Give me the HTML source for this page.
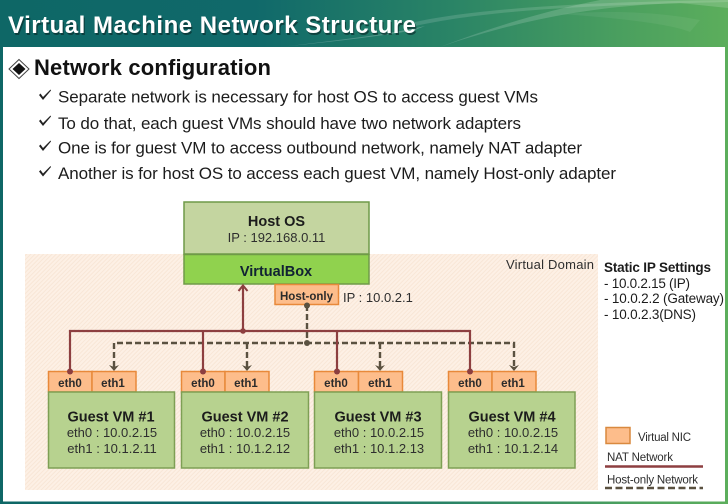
<!DOCTYPE html>
<html><head><meta charset="utf-8"><style>
html,body{margin:0;padding:0;background:#fff;width:728px;height:504px;overflow:hidden}
svg{display:block;filter:blur(.35px)}
text{font-family:"Liberation Sans",sans-serif;fill:#1c1c1c}
.b{font-weight:bold}
.m{text-anchor:middle}
.g{fill:#2e2e2e}
.e{font-size:11.500px;font-weight:bold;text-anchor:middle;fill:#2b2b2b}
.n{fill:#fdbd8b;stroke:#e8893a;stroke-width:1.500}
.v{fill:#b7d28f;stroke:#7e9f55;stroke-width:1.500}
</style></head><body>
<svg width="728" height="504" viewBox="0 0 728 504" xmlns="http://www.w3.org/2000/svg">
<defs>
<linearGradient id="hd" x1="0" y1="0" x2="1" y2="0">
<stop offset="0" stop-color="#0e6766"/><stop offset=".35" stop-color="#10696a"/><stop offset=".62" stop-color="#2a8466"/><stop offset=".85" stop-color="#4a9f5f"/><stop offset="1" stop-color="#5cae5c"/>
</linearGradient>
<pattern id="hatch" width="3" height="3" patternUnits="userSpaceOnUse" patternTransform="rotate(45)">
<rect width="3" height="3" fill="#fdf0e5"/><rect width="1" height="3" fill="#f8e6d6"/>
</pattern>
</defs>
<rect width="728" height="504" fill="url(#hd)"/>
<path d="M415 26C480 12 560 6 728 2L728 0C590 2 480 8 415 22Z" fill="#fff" opacity=".14"/>
<path d="M440 47C520 20 590 6 680 3L728 8L728 0L600 0C540 12 490 28 440 47Z" fill="#fff" opacity=".16"/>
<path d="M280 47C340 40 390 34 425 26L415 30C370 38 320 43 280 47Z" fill="#fff" opacity=".22"/>
<path d="M560 14C620 18 670 24 690 32L700 20C660 12 610 10 560 14Z" fill="#fff" opacity=".06"/>
<rect x="3" y="47" width="722" height="454.500" fill="#fff"/>
<text x="8" y="34" class="b" font-size="24" textLength="408" style="fill:#0a2a2a" opacity=".65" transform="translate(1.200 1.200)">Virtual Machine Network Structure</text>
<text x="8" y="33" class="b" font-size="24" textLength="408" style="fill:#fff">Virtual Machine Network Structure</text>

<path d="M19 59.500L29 69L19 78.500L9 69Z" fill="#fff" stroke="#444" stroke-width="1"/>
<path d="M19 63L25.500 69L19 75L12.500 69Z" fill="#111"/>
<text x="34" y="75" class="b" font-size="22" textLength="237" style="fill:#111">Network configuration</text>

<g fill="#222">
<path d="M39 95L40.500 93.500L43 97L50.500 89.500L51 90.500L43 100Z"/>
<path d="M39 121L40.500 119.500L43 123L50.500 115.500L51 116.500L43 126Z"/>
<path d="M39 146L40.500 144.500L43 148L50.500 140.500L51 141.500L43 151Z"/>
<path d="M39 171.500L40.500 170L43 173.500L50.500 166L51 167L43 176.500Z"/>
</g>
<g font-size="17">
<text x="58" y="102.500" textLength="480">Separate network is necessary for host OS to access guest VMs</text>
<text x="58" y="129" textLength="463">To do that, each guest VMs should have two network adapters</text>
<text x="58" y="153.500" textLength="524">One is for guest VM to access outbound network, namely NAT adapter</text>
<text x="58" y="179" textLength="558">Another is for host OS to access each guest VM, namely Host-only adapter</text>
</g>

<rect x="25" y="254" width="573" height="236" fill="url(#hatch)"/>
<text x="506" y="269" font-size="13" textLength="88" class="g">Virtual Domain</text>

<rect x="184" y="202" width="185" height="52" fill="#c4d5a0" stroke="#6f9a48" stroke-width="1.500"/>
<rect x="184" y="254.500" width="185" height="29.500" fill="#90d24e" stroke="#6f9a48" stroke-width="1.500"/>
<text x="276.500" y="226" class="b m" font-size="14.500">Host OS</text>
<text x="276.500" y="242" class="m g" font-size="13">IP : 192.168.0.11</text>
<text x="276" y="276" class="b m" font-size="14.500" style="fill:#123">VirtualBox</text>

<rect x="275" y="284.500" width="63.500" height="20" class="n"/>
<text x="306.500" y="300" class="e">Host-only</text>
<text x="343" y="302" font-size="13" class="g">IP : 10.0.2.1</text>

<g fill="none" stroke="#5a5140" stroke-width="2.400" stroke-dasharray="6 3">
<path d="M307 305V343"/>
<path d="M114 367V343H514V367"/>
<path d="M247 343V367"/>
<path d="M380 343V367"/>
</g>
<g fill="#5a5140">
<circle cx="307" cy="305.500" r="3"/><circle cx="307" cy="343" r="3"/>
<path d="M109 365L114 371L119 365L114 367Z"/><path d="M242 365L247 371L252 365L247 367Z"/>
<path d="M375 365L380 371L385 365L380 367Z"/><path d="M509 365L514 371L519 365L514 367Z"/>
</g>
<g fill="none" stroke="#8d3f40" stroke-width="2.200">
<path d="M243 287V331"/>
<path d="M70 371V331H470V371"/>
<path d="M203 331V371"/>
<path d="M337 331V371"/>
<path d="M238.500 291L243 285.500L247.500 291" stroke-width="2"/>
</g>
<circle cx="243" cy="331" r="2.800" fill="#8d3f40"/>

<g font-size="13">
<rect x="48.500" y="371.500" width="43.500" height="20.500" class="n"/>
<rect x="92" y="371.500" width="44" height="20.500" class="n"/>
<rect x="48.500" y="392" width="126" height="76" class="v"/>
<text x="70" y="387" class="e">eth0</text>
<text x="113" y="387" class="e">eth1</text>
<text x="111" y="421.500" class="m b" font-size="14.500">Guest VM #1</text>
<text x="112" y="437" class="m g">eth0 : 10.0.2.15</text>
<text x="112" y="453" class="m g">eth1 : 10.1.2.11</text>
<circle cx="70" cy="371.500" r="3" fill="#8d3f40"/>
</g>
<g font-size="13">
<rect x="181.500" y="371.500" width="43.500" height="20.500" class="n"/>
<rect x="225" y="371.500" width="44" height="20.500" class="n"/>
<rect x="181.500" y="392" width="127" height="76" class="v"/>
<text x="203" y="387" class="e">eth0</text>
<text x="246" y="387" class="e">eth1</text>
<text x="245" y="421.500" class="m b" font-size="14.500">Guest VM #2</text>
<text x="245" y="437" class="m g">eth0 : 10.0.2.15</text>
<text x="245" y="453" class="m g">eth1 : 10.1.2.12</text>
<circle cx="203" cy="371.500" r="3" fill="#8d3f40"/>
</g>
<g font-size="13">
<rect x="314.500" y="371.500" width="44" height="20.500" class="n"/>
<rect x="358.500" y="371.500" width="44" height="20.500" class="n"/>
<rect x="314.500" y="392" width="127" height="76" class="v"/>
<text x="336" y="387" class="e">eth0</text>
<text x="380" y="387" class="e">eth1</text>
<text x="378" y="421.500" class="m b" font-size="14.500">Guest VM #3</text>
<text x="379" y="437" class="m g">eth0 : 10.0.2.15</text>
<text x="379" y="453" class="m g">eth1 : 10.1.2.13</text>
<circle cx="337" cy="371.500" r="3" fill="#8d3f40"/>
</g>
<g font-size="13">
<rect x="448.500" y="371.500" width="43.500" height="20.500" class="n"/>
<rect x="492" y="371.500" width="44" height="20.500" class="n"/>
<rect x="448.500" y="392" width="126.500" height="76" class="v"/>
<text x="470" y="387" class="e">eth0</text>
<text x="513" y="387" class="e">eth1</text>
<text x="512" y="421.500" class="m b" font-size="14.500">Guest VM #4</text>
<text x="513" y="437" class="m g">eth0 : 10.0.2.15</text>
<text x="513" y="453" class="m g">eth1 : 10.1.2.14</text>
<circle cx="470" cy="371.500" r="3" fill="#8d3f40"/>
</g>

<text x="604" y="272" class="b" font-size="13.500" textLength="107">Static IP Settings</text>
<g font-size="13.500" class="g">
<text x="604" y="288" textLength="86">- 10.0.2.15 (IP)</text>
<text x="604" y="303" textLength="120">- 10.0.2.2 (Gateway)</text>
<text x="604" y="319" textLength="92">- 10.0.2.3(DNS)</text>
</g>
<rect x="606" y="427.500" width="24" height="16" class="n" style="stroke:#d9893f"/>
<text x="638" y="441" font-size="11.500" textLength="53" class="g">Virtual NIC</text>
<text x="607" y="461" font-size="11.500" textLength="66" class="g">NAT Network</text>
<path d="M605 466.500H703" stroke="#8d3f40" stroke-width="2.400"/>
<text x="607" y="483.500" font-size="11.500" textLength="91" class="g">Host-only Network</text>
<path d="M605 488H703" stroke="#5a5140" stroke-width="2.400" stroke-dasharray="7 3.500"/>
</svg>
</body></html>
